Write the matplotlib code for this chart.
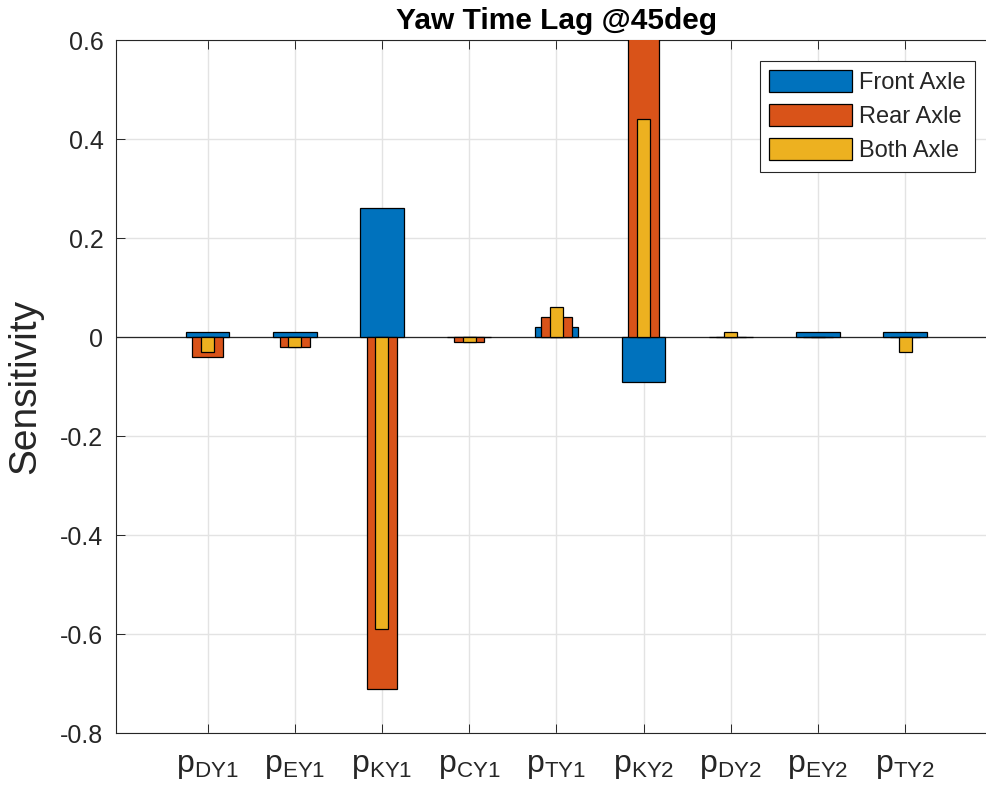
import numpy as np
import matplotlib
matplotlib.use('Agg')
import matplotlib.pyplot as plt

plt.rcParams['font.family'] = ['Liberation Sans', 'DejaVu Sans']
plt.rcParams['mathtext.fontset'] = 'custom'
plt.rcParams['mathtext.rm'] = 'Liberation Sans'
plt.rcParams['mathtext.it'] = 'Liberation Sans'

params = ['DY1', 'EY1', 'KY1', 'CY1', 'TY1', 'KY2', 'DY2', 'EY2', 'TY2']
front_axle = [0.01, 0.01, 0.26, 0.0, 0.02, -0.09, 0.0, 0.01, 0.01]
rear_axle = [-0.04, -0.02, -0.71, -0.01, 0.04, 0.80, 0.0, 0.0, 0.0]
both_axle = [-0.03, -0.02, -0.59, -0.01, 0.06, 0.44, 0.01, 0.0, -0.03]
yticks = [-0.8, -0.6, -0.4, -0.2, 0, 0.2, 0.4, 0.6]
ytick_labels = ['-0.8', '-0.6', '-0.4', '-0.2', '0', '0.2', '0.4', '0.6']

blue = '#0072BD'
orange = '#D95319'
yellow = '#EDB120'
dark = '#262626'

W, H = 987, 792
fig = plt.figure(figsize=(W / 100, H / 100), dpi=100)

# axes runs past the right edge of the figure (as in the original)
unit = 87.2
xmin, xmax = -0.05, 10.05
left_px, top_px, bottom_px = 116, 40, 733.3
ax = fig.add_axes([left_px / W, 1 - bottom_px / H,
                   (xmax - xmin) * unit / W, (bottom_px - top_px) / H])

x = np.arange(1, len(params) + 1)
b1 = ax.bar(x, front_axle, width=0.5, color=blue, edgecolor='k', linewidth=0.9, zorder=2, label='Front Axle')
b2 = ax.bar(x, rear_axle, width=0.35, color=orange, edgecolor='k', linewidth=0.9, zorder=3, label='Rear Axle')
b3 = ax.bar(x, both_axle, width=0.15, color=yellow, edgecolor='k', linewidth=0.9, zorder=4, label='Both Axle')
ax.axhline(0, color=dark, linewidth=0.9, zorder=1.5)

ax.set_xlim(xmin, xmax)
ax.set_ylim(-0.8, 0.6)
ax.set_xticks(x)
ax.set_xticklabels([r'$\mathregular{p_{%s}}$' % p for p in params], fontsize=23)
ax.set_yticks(yticks)
ax.set_yticklabels(ytick_labels, fontsize=18)
ax.tick_params(direction='in', length=6.5, width=0.7, colors=dark, top=True, right=False)
ax.tick_params(axis='y', pad=9)
ax.tick_params(axis='x', pad=13)
for lbl in ax.get_xticklabels() + ax.get_yticklabels():
    lbl.set_color(dark)

ax.grid(True, color='#e3e3e3', linewidth=1.0, zorder=0)
ax.set_axisbelow(True)
for s in ax.spines.values():
    s.set_color(dark)
    s.set_linewidth(0.8)

ax.set_ylabel('Sensitivity', fontsize=28, color=dark, labelpad=12)
ax.set_title('Yaw Time Lag @45deg', fontsize=21.5, fontweight='bold', pad=8)

leg = ax.legend(handles=[b1, b2, b3], loc='upper right',
                bbox_to_anchor=(975 / W, 1 - 61 / H), bbox_transform=fig.transFigure,
                borderaxespad=0, fontsize=17, handlelength=3.5, handleheight=1.05,
                labelspacing=0.42, handletextpad=0.3, borderpad=0.4,
                fancybox=False, framealpha=1, edgecolor=dark)
leg.get_frame().set_linewidth(0.8)
for t in leg.get_texts():
    t.set_color(dark)

fig.savefig('out.png', dpi=100)
